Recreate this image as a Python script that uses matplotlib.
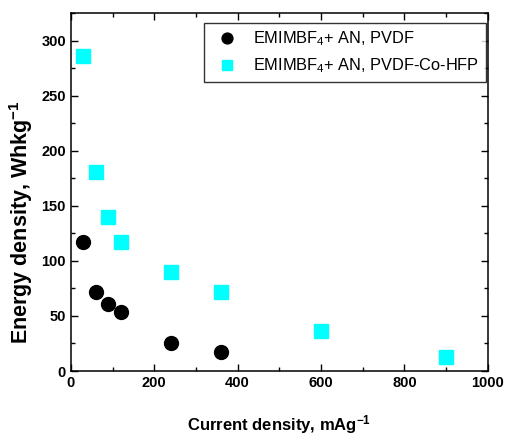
import matplotlib
matplotlib.use("Agg")
import matplotlib.pyplot as plt
from matplotlib.ticker import MultipleLocator

# data
x_pvdf = [30, 60, 90, 120, 240, 360]
y_pvdf = [117, 72, 61, 54, 25, 17]
x_hfp = [30, 60, 90, 120, 240, 360, 600, 900]
y_hfp = [286, 181, 140, 117, 90, 72, 36, 13]
lbl_pvdf = "EMIMBF$_4$+ AN, PVDF"
lbl_hfp = "EMIMBF$_4$+ AN, PVDF-Co-HFP"

plt.rcParams['font.family'] = ['Liberation Sans', 'DejaVu Sans']
plt.rcParams['mathtext.default'] = 'regular'

fig = plt.figure(figsize=(5.06, 4.37), dpi=100)
ax = fig.add_axes([0.140, 0.151, 0.824, 0.819])

ax.plot(x_pvdf, y_pvdf, 'o', color='black', markersize=10, label=lbl_pvdf)
ax.plot(x_hfp, y_hfp, 's', color='#00ffff', markersize=9.5, label=lbl_hfp)

ax.set_xlim(0, 1000)
ax.set_ylim(0, 325)
ax.xaxis.set_major_locator(MultipleLocator(200))
ax.xaxis.set_minor_locator(MultipleLocator(100))
ax.yaxis.set_major_locator(MultipleLocator(50))
ax.yaxis.set_minor_locator(MultipleLocator(25))
ax.tick_params(which='both', direction='in', top=True, right=True, width=1)
ax.tick_params(which='major', length=5, labelsize=10.5)
ax.tick_params(which='minor', length=3)
for lab in ax.get_xticklabels() + ax.get_yticklabels():
    lab.set_fontweight('bold')
for sp in ax.spines.values():
    sp.set_linewidth(1.1)

ax.set_xlabel("Current density, mAg$^{-1}$", fontsize=12, fontweight='bold', labelpad=17)
ax.set_ylabel("Energy density, Whkg$^{-1}$", fontsize=15.5, fontweight='bold')
ax.yaxis.set_label_coords(-0.085, 0.416)

leg = ax.legend(loc='upper right', bbox_to_anchor=(1 - 2 / 417, 1 - 10 / 358),
                borderaxespad=0, fontsize=11.8, frameon=True, fancybox=False,
                edgecolor='black', handletextpad=0.6, labelspacing=0.5,
                markerscale=0.78)
leg.get_frame().set_linewidth(1.0)

fig.savefig("out.png", dpi=100)
